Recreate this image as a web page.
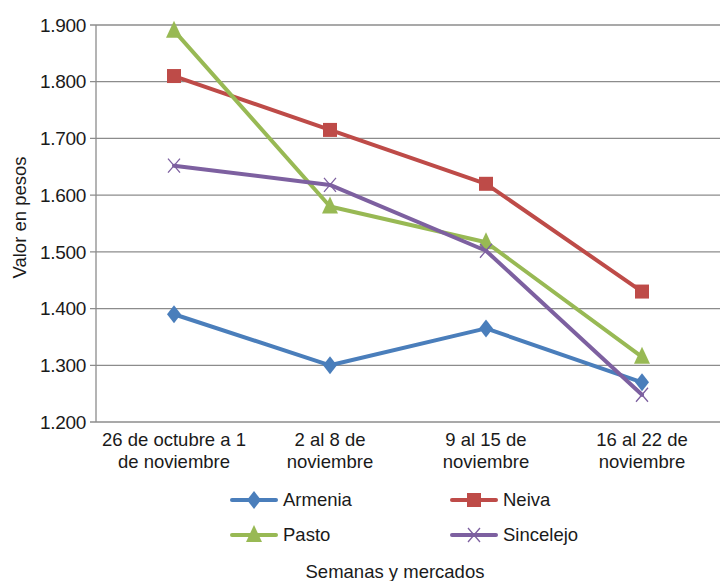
<!DOCTYPE html>
<html>
<head>
<meta charset="utf-8">
<script src="https://cdn.jsdelivr.net/npm/d3@7"></script>
<style>
  body { margin: 0; background: #fff; }
  text { font-family: "Liberation Sans", Arial, sans-serif; fill: #1a1a1a; }
</style>
</head>
<body>
<div id="chart"></div>
<script>
const weeks = [
  ["26 de octubre a 1", "de noviembre"],
  ["2 al 8 de", "noviembre"],
  ["9 al 15 de", "noviembre"],
  ["16 al 22 de", "noviembre"],
];
const armenia = [1390, 1300, 1365, 1270];
const neiva = [1810, 1715, 1620, 1430];
const pasto = [1890, 1580, 1517, 1315];
const sincelejo = [1652, 1618, 1502, 1248];
const yTicks = [1200, 1300, 1400, 1500, 1600, 1700, 1800, 1900];

const series = [
  { name: "Armenia", values: armenia, color: "#4a7ebb", marker: "diamond" },
  { name: "Neiva", values: neiva, color: "#be4b48", marker: "square" },
  { name: "Pasto", values: pasto, color: "#98b954", marker: "triangle" },
  { name: "Sincelejo", values: sincelejo, color: "#7d60a0", marker: "cross" },
];

const width = 725,
  height = 581,
  margin = { top: 25, right: 5, bottom: 159, left: 96 };

const svg = d3
  .select("#chart")
  .append("svg")
  .attr("width", width)
  .attr("height", height);

const x = d3
  .scaleBand()
  .domain(d3.range(weeks.length))
  .range([margin.left, width - margin.right]);

const y = d3
  .scaleLinear()
  .domain([1200, 1900])
  .range([height - margin.bottom, margin.top]);

// thousands with a dot, as in the original
const fmt = (d) => d3.format(",")(d).replace(",", ".");

// gridlines
svg
  .append("g")
  .selectAll("line")
  .data(yTicks)
  .join("line")
  .attr("x1", margin.left - 6)
  .attr("x2", width - margin.right)
  .attr("y1", (d) => y(d))
  .attr("y2", (d) => y(d))
  .style("stroke", "#8c8c8c")
  .style("stroke-width", 1.3);

// y axis line
svg
  .append("line")
  .attr("x1", margin.left)
  .attr("x2", margin.left)
  .attr("y1", margin.top)
  .attr("y2", height - margin.bottom)
  .style("stroke", "#8c8c8c")
  .style("stroke-width", 1.3);

// y tick labels
svg
  .append("g")
  .selectAll("text")
  .data(yTicks)
  .join("text")
  .attr("x", margin.left - 10)
  .attr("y", (d) => y(d))
  .attr("dy", "0.35em")
  .attr("text-anchor", "end")
  .style("font-size", "19px")
  .style("letter-spacing", "-0.3px")
  .text((d) => fmt(d));

// y axis title
svg
  .append("text")
  .attr("transform", `translate(26,${(margin.top + height - margin.bottom) / 2 - 6}) rotate(-90)`)
  .attr("text-anchor", "middle")
  .style("font-size", "18.5px")
  .text("Valor en pesos");

// x tick labels
svg
  .append("g")
  .selectAll("text")
  .data(weeks)
  .join("text")
  .attr("x", (d, i) => x(i) + x.bandwidth() / 2)
  .attr("y", height - margin.bottom + 24)
  .attr("text-anchor", "middle")
  .style("font-size", "18.5px")
  .selectAll("tspan")
  .data((d) => d)
  .join("tspan")
  .attr("x", function () {
    return this.parentNode.getAttribute("x");
  })
  .attr("dy", (d, i) => (i === 0 ? 0 : "1.2em"))
  .text((d) => d);

// x axis title
svg
  .append("text")
  .attr("x", 395)
  .attr("y", 578)
  .attr("text-anchor", "middle")
  .style("font-size", "18.5px")
  .text("Semanas y mercados");

function drawMarker(g, type, color) {
  if (type === "diamond") {
    g.append("path").attr("d", "M0,-9L7,0L0,9L-7,0Z").style("fill", color);
  } else if (type === "square") {
    g.append("rect")
      .attr("x", -7)
      .attr("y", -7)
      .attr("width", 14)
      .attr("height", 14)
      .style("fill", color);
  } else if (type === "triangle") {
    g.append("path").attr("d", "M0,-10L8,7L-8,7Z").style("fill", color);
  } else {
    g.append("path")
      .attr("d", "M-6,-7L6,7M-6,7L6,-7")
      .style("stroke", color)
      .style("stroke-width", 1.3)
      .style("fill", "none");
  }
}

const line = d3
  .line()
  .x((d, i) => x(i) + x.bandwidth() / 2)
  .y((d) => y(d));

const seriesG = svg.append("g");
series.forEach((s) => {
  seriesG
    .append("path")
    .datum(s.values)
    .attr("d", line)
    .style("fill", "none")
    .style("stroke", s.color)
    .style("stroke-width", 4)
    .style("stroke-linejoin", "round")
    .style("stroke-linecap", "round");
  s.values.forEach((v, i) => {
    const g = seriesG
      .append("g")
      .attr("transform", `translate(${x(i) + x.bandwidth() / 2},${y(v)})`);
    drawMarker(g, s.marker, s.color);
  });
});

// legend
const legendPos = [
  [230, 500],
  [450, 500],
  [230, 535],
  [450, 535],
];
series.forEach((s, i) => {
  const [lx, ly] = legendPos[i];
  const g = svg.append("g").attr("transform", `translate(${lx},${ly})`);
  g.append("line")
    .attr("x1", 2)
    .attr("x2", 46)
    .attr("y1", 0)
    .attr("y2", 0)
    .style("stroke", s.color)
    .style("stroke-width", 4)
    .style("stroke-linecap", "round");
  const m = g.append("g").attr("transform", "translate(24,0)");
  drawMarker(m, s.marker, s.color);
  g.append("text")
    .attr("x", 53)
    .attr("y", 0)
    .attr("dy", "0.35em")
    .style("font-size", "18.5px")
    .text(s.name);
});
</script>
</body>
</html>
